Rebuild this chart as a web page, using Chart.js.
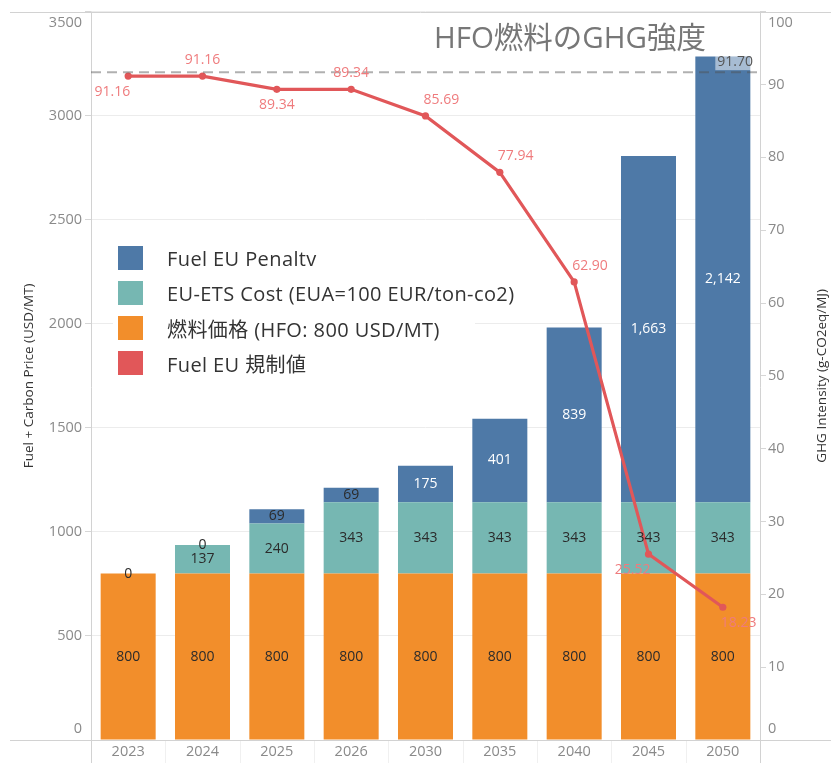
<!DOCTYPE html>
<html>
<head>
<meta charset="utf-8">
<script src="https://cdn.jsdelivr.net/npm/chart.js@4.4.1/dist/chart.umd.min.js"></script>
<style>
  html, body { margin: 0; padding: 0; background: #fff; }
  #wrap { position: relative; width: 831px; height: 763px; }
  canvas { display: block; }
  #legend {
    position: absolute; left: 113px; top: 240px; width: 362px; height: 142px;
    background: #fff;
    font-family: 'Open Sans', 'Noto Sans CJK JP', sans-serif; font-size: 20px; letter-spacing: 0.4px; color: #333;
  }
  .item { position: absolute; left: 5px; height: 24px; display: flex; align-items: center; white-space: nowrap; }
  .sw { width: 25px; height: 24px; margin-right: 24px; flex: none; }
</style>
</head>
<body>
<div id="wrap">
  <canvas id="chart" width="831" height="763"></canvas>
  <div id="legend"></div>
</div>
<script>
// Years on the horizontal axis
const categories = ['2023', '2024', '2025', '2026', '2030', '2035', '2040', '2045', '2050'];
// Stacked cost components, USD/MT
const fuelPrice = [800, 800, 800, 800, 800, 800, 800, 800, 800];
const etsCost = [0, 137, 240, 343, 343, 343, 343, 343, 343];
const fuelEuPenalty = [0, 0, 69, 69, 175, 401, 839, 1663, 2142];
// FuelEU GHG intensity limit, g-CO2eq/MJ
const ghgLimit = [91.16, 91.16, 89.34, 89.34, 85.69, 77.94, 62.90, 25.52, 18.23];
// GHG intensity of HFO (reference line)
const hfoIntensity = 91.70;
// Axis ranges and tick steps
const priceAxis = { min: 0, max: 3500, step: 500 };
const ghgAxis = { min: 0, max: 100, step: 10 };

// Where each limit label sits relative to its point
const ghgLabelSide  = ['below', 'above', 'below', 'above', 'above', 'above', 'above', 'below', 'below'];
const ghgLabelAlign = ['right', 'center', 'center', 'center', 'left', 'left', 'left', 'right', 'left'];

const COLORS = {
  penalty: '#4e79a7',
  ets: '#76b7b2',
  fuel: '#f28e2b',
  limit: '#e15759',
  limitText: '#ef7b7d',
  tick: '#8a8a8a',
  dark: '#2b2b2b'
};
const FONT = "'Open Sans', 'Noto Sans CJK JP', sans-serif";

// Tableau-style: the outermost value labels sit inside the pane
const edgeLabelNudge = {
  id: 'edgeLabelNudge',
  beforeDraw(chart) {
    const area = chart.chartArea;
    ['y', 'y2'].forEach(id => {
      const items = chart.scales[id].getLabelItems();
      items.forEach(it => {
        const t = it.options.translation;
        if (t[1] < area.top + 2) t[1] += 11;
        else if (t[1] > area.bottom - 2) t[1] -= 11;
      });
    });
  }
};

// Frame lines, header separators, axis titles and the chart heading
const frame = {
  id: 'frame',
  beforeDatasetsDraw(chart) {
    const ctx = chart.ctx;
    const a = chart.chartArea;
    const xs = chart.scales.x;
    ctx.save();
    ctx.strokeStyle = '#f0f0f0';
    ctx.lineWidth = 1;
    for (let i = 0; i <= categories.length; i++) {
      const x = Math.round(xs.getPixelForValue(i - 0.5)) + 0.5;
      ctx.beginPath(); ctx.moveTo(x, a.bottom); ctx.lineTo(x, chart.height); ctx.stroke();
    }
    ctx.strokeStyle = '#d2d2d2';
    ctx.beginPath();
    ctx.moveTo(10, Math.round(a.top) + 0.5); ctx.lineTo(chart.width, Math.round(a.top) + 0.5);
    ctx.moveTo(10, Math.round(a.bottom) + 0.5); ctx.lineTo(chart.width, Math.round(a.bottom) + 0.5);
    ctx.moveTo(Math.round(a.left) + 0.5, a.top); ctx.lineTo(Math.round(a.left) + 0.5, chart.height);
    ctx.moveTo(Math.round(a.right) + 0.5, a.top); ctx.lineTo(Math.round(a.right) + 0.5, chart.height);
    ctx.stroke();
    ctx.restore();
  },
  afterDraw(chart) {
    const ctx = chart.ctx;
    const a = chart.chartArea;
    const midY = (a.top + a.bottom) / 2;
    ctx.save();
    ctx.fillStyle = '#333';
    ctx.font = '13.5px ' + FONT;
    ctx.textAlign = 'center';
    ctx.textBaseline = 'middle';
    ctx.translate(chart.scales.y.left + 29, midY);
    ctx.rotate(-Math.PI / 2);
    ctx.fillText('Fuel + Carbon Price (USD/MT)', 0, 0);
    ctx.restore();

    ctx.save();
    ctx.fillStyle = '#333';
    ctx.font = '13.5px ' + FONT;
    ctx.textAlign = 'center';
    ctx.textBaseline = 'middle';
    ctx.translate(chart.scales.y2.right - 9, midY);
    ctx.rotate(-Math.PI / 2);
    ctx.fillText('GHG Intensity (g-CO2eq/MJ)', 0, 0);
    ctx.restore();

    ctx.save();
    ctx.fillStyle = '#777';
    ctx.font = '29.5px ' + FONT;
    ctx.textAlign = 'right';
    ctx.textBaseline = 'middle';
    ctx.fillText('HFO燃料のGHG強度', a.right - 54, a.top + 28);
    ctx.restore();
  }
};

// Reference line, stacked-bar values and limit values
const valueLabels = {
  id: 'valueLabels',
  afterDatasetsDraw(chart) {
    const ctx = chart.ctx;
    const a = chart.chartArea;
    const yRef = chart.scales.y2.getPixelForValue(hfoIntensity);

    ctx.save();
    ctx.setLineDash([10, 6]);
    ctx.lineWidth = 2;
    ctx.strokeStyle = 'rgba(80,80,80,0.45)';
    ctx.beginPath(); ctx.moveTo(a.left, yRef); ctx.lineTo(a.right, yRef); ctx.stroke();
    ctx.setLineDash([]);
    ctx.font = '14px ' + FONT;
    const refText = hfoIntensity.toFixed(2);
    const w = ctx.measureText(refText).width;
    ctx.fillStyle = 'rgba(255,255,255,0.5)';
    ctx.fillRect(a.right - 7 - w - 2, yRef - 16, w + 4, 14);
    ctx.fillStyle = '#555';
    ctx.textAlign = 'right';
    ctx.textBaseline = 'middle';
    ctx.fillText(refText, a.right - 7, yRef - 10);
    ctx.restore();

    ctx.save();
    ctx.font = '14px ' + FONT;
    ctx.textAlign = 'center';
    ctx.textBaseline = 'middle';
    chart.data.datasets.forEach((ds, di) => {
      if (ds.type !== 'bar') return;
      const meta = chart.getDatasetMeta(di);
      meta.data.forEach((el, i) => {
        const v = ds.data[i];
        if (ds.hideZeroLabel && v === 0) return;
        const cy = (el.y + el.base) / 2;
        ctx.fillStyle = (ds.lightLabel && v > 100) ? '#ffffff' : COLORS.dark;
        ctx.fillText(v.toLocaleString('en-US'), el.x, cy);
      });
    });
    ctx.restore();

    const lineIdx = chart.data.datasets.findIndex(d => d.type === 'line');
    const lineMeta = chart.getDatasetMeta(lineIdx);
    ctx.save();
    ctx.font = '14px ' + FONT;
    ctx.fillStyle = COLORS.limitText;
    ctx.textBaseline = 'middle';
    lineMeta.data.forEach((pt, i) => {
      const align = ghgLabelAlign[i];
      let x = pt.x;
      if (align === 'right') x += 2;
      if (align === 'left') x -= 2;
      ctx.textAlign = align;
      const y = ghgLabelSide[i] === 'above' ? pt.y - 16 : pt.y + 16;
      ctx.fillText(ghgLimit[i].toFixed(2), x, y);
    });
    ctx.restore();
  }
};

const tickFont = { family: FONT, size: 14.5 };
const plainNumber = v => String(v);

const chart = new Chart(document.getElementById('chart'), {
  data: {
    labels: categories,
    datasets: [
      {
        type: 'line', label: 'Fuel EU 規制値', data: ghgLimit, yAxisID: 'y2', order: 0,
        borderColor: COLORS.limit, backgroundColor: COLORS.limit, borderWidth: 3.2,
        pointRadius: 3.6, pointBackgroundColor: COLORS.limit, pointBorderWidth: 0, tension: 0
      },
      {
        type: 'bar', label: '燃料価格 (HFO: 800 USD/MT)', data: fuelPrice, yAxisID: 'y', order: 1,
        backgroundColor: COLORS.fuel, barPercentage: 0.74, categoryPercentage: 1
      },
      {
        type: 'bar', label: 'EU-ETS Cost (EUA=100 EUR/ton-co2)', data: etsCost, yAxisID: 'y', order: 1,
        backgroundColor: COLORS.ets, barPercentage: 0.74, categoryPercentage: 1, hideZeroLabel: true
      },
      {
        type: 'bar', label: 'Fuel EU Penaltv', data: fuelEuPenalty, yAxisID: 'y', order: 1,
        backgroundColor: COLORS.penalty, barPercentage: 0.74, categoryPercentage: 1, lightLabel: true
      }
    ]
  },
  options: {
    responsive: false,
    animation: false,
    devicePixelRatio: 1,
    layout: { padding: { top: 11, left: 0, right: 0, bottom: 0 } },
    plugins: { legend: { display: false }, tooltip: { enabled: false } },
    scales: {
      x: {
        stacked: true,
        grid: { display: false, drawTicks: false },
        border: { display: false },
        ticks: { color: COLORS.tick, font: tickFont, padding: 3, maxRotation: 0 },
        afterFit(s) { s.height = 23; }
      },
      y: {
        position: 'left', stacked: true,
        min: priceAxis.min, max: priceAxis.max,
        ticks: { stepSize: priceAxis.step, color: COLORS.tick, font: tickFont, padding: 3, callback: plainNumber },
        grid: { color: '#ececec', tickColor: '#d6d6d6', tickLength: 6 },
        border: { display: false },
        afterFit(s) { s.width = 91; }
      },
      y2: {
        position: 'right', stacked: false,
        min: ghgAxis.min, max: ghgAxis.max,
        ticks: { stepSize: ghgAxis.step, color: COLORS.tick, font: tickFont, padding: 2, callback: plainNumber },
        grid: { drawOnChartArea: false, tickColor: '#d6d6d6', tickLength: 6 },
        border: { display: false },
        afterFit(s) { s.width = 71; }
      }
    }
  },
  plugins: [edgeLabelNudge, frame, valueLabels]
});

// Legend listing the series top-down as they stack
const legendOrder = [3, 2, 1, 0];
const legendEl = document.getElementById('legend');
legendOrder.forEach((di, row) => {
  const ds = chart.data.datasets[di];
  const item = document.createElement('div');
  item.className = 'item';
  item.style.top = (6 + row * 35) + 'px';
  const sw = document.createElement('span');
  sw.className = 'sw';
  sw.style.background = ds.backgroundColor;
  const tx = document.createElement('span');
  tx.textContent = ds.label;
  item.appendChild(sw);
  item.appendChild(tx);
  legendEl.appendChild(item);
});
</script>
</body>
</html>
